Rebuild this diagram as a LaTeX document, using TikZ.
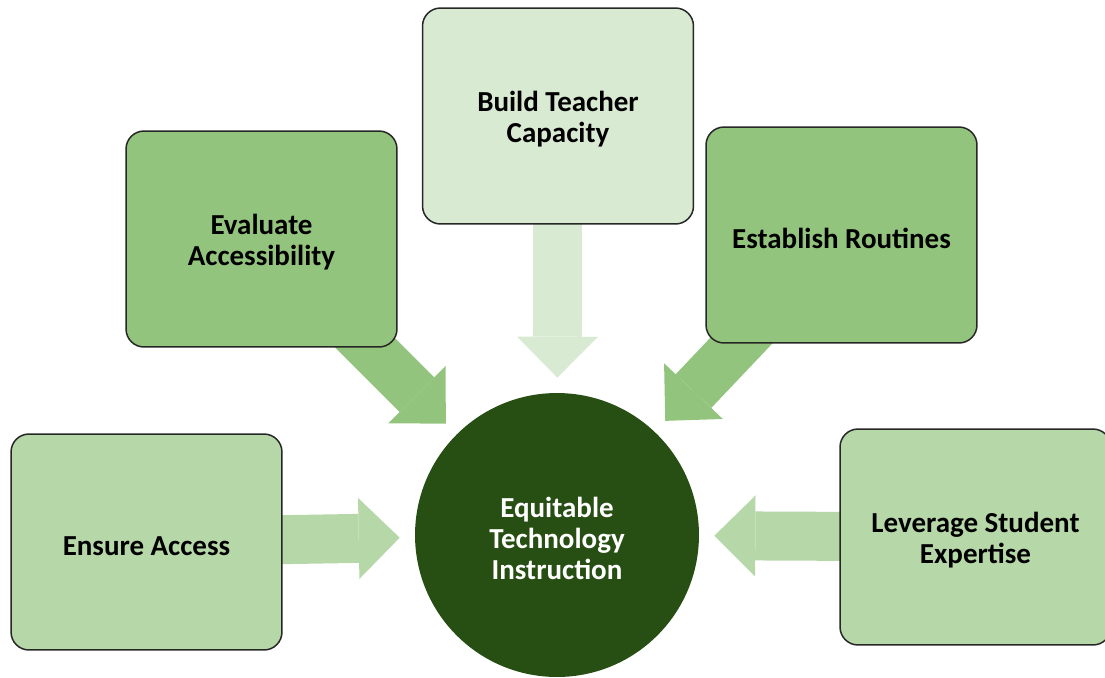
\documentclass[tikz,border=0pt]{standalone}
\usepackage{fontspec}
\setmainfont{Carlito}
\usetikzlibrary{arrows.meta,backgrounds}

\definecolor{leafdark}{HTML}{93C47D}
\definecolor{leafmid}{HTML}{B6D7A8}
\definecolor{leaflight}{HTML}{D9EAD3}
\definecolor{forest}{HTML}{274E13}

% taller first line, pushes the text a little lower in its shape
\newcommand\liftline{\rule{0pt}{15pt}}

\tikzset{
  label font/.style={font=\fontsize{16.5}{17.6}\selectfont\bfseries,
                     execute at begin node={\rule{0pt}{15.5pt}}},
  box/.style={draw=black!85, line width=0.85pt, rounded corners=0.36cm,
              minimum width=5.42cm, minimum height=4.32cm, inner sep=0pt,
              align=center, label font},
  flow/.style={line width=0.98cm, shorten >=0.3cm,
               -{Triangle[length=0.82cm, width=1.62cm, line width=0pt]}},
}

\begin{document}
\begin{tikzpicture}[x=0.02cm, y=-0.02cm]
\useasboundingbox (0,0) rectangle (1105,677);

\node[box, fill=leaflight] (build)     at (558,116)   {\liftline Build Teacher\\Capacity};
\node[box, fill=leafdark]  (evaluate)  at (261.5,239) {\liftline Evaluate\\Accessibility};
\node[box, fill=leafdark]  (establish) at (841.5,235) {Establish Routines};
\node[box, fill=leafmid]   (ensure)    at (146.5,542) {Ensure Access};
\node[box, fill=leafmid]   (leverage)  at (975.5,537) {\liftline Leverage Student\\Expertise};

\node[circle, fill=forest, minimum size=5.68cm, inner sep=0pt, align=center,
      text=white, label font]
      (eq) at (557,535) {\liftline Equitable\\Technology\\Instruction};

% block arrows run from each box centre, so the shafts sit under the boxes
\begin{scope}[on background layer]
\draw[flow, leaflight] (build.center)     -- (eq);
\draw[flow, leafdark]  (evaluate.center)  -- (eq);
\draw[flow, leafdark]  (establish.center) -- (eq);
\draw[flow, leafmid]   (ensure.center)    -- (eq);
\draw[flow, leafmid]   (leverage.center)  -- (eq);
\end{scope}
\end{tikzpicture}
\end{document}
